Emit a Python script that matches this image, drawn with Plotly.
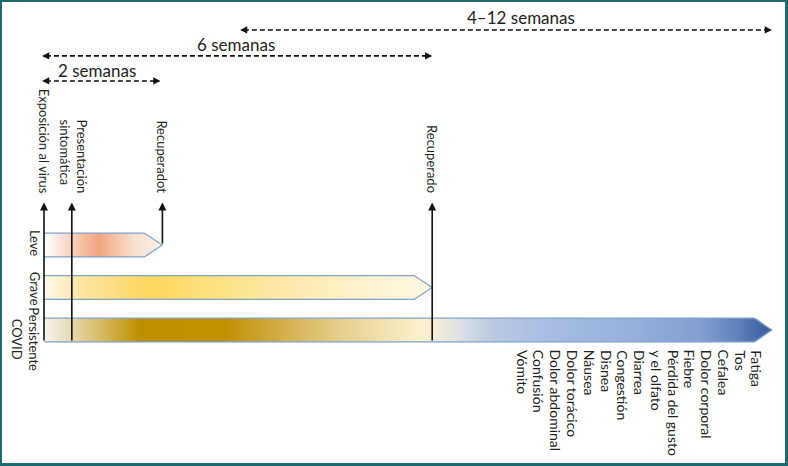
import numpy as np
import plotly.graph_objects as go

# ---------------- data (schematic timeline, in semanas) ----------------
stages = ["Leve", "Grave", "Persistente<br>COVID"]
stage_start = [0.0, 0.0, 0.0]
stage_end = [1.83, 6.0, 11.25]

events = ["Exposición al virus", "Presentación<br>sintomática", "Recuperadot", "Recuperado"]
event_week = [0.0, 0.43, 1.83, 6.0]
event_from_stage = [2, 2, 0, 2]

spans = ["2 semanas", "6 semanas", "4–12 semanas"]
span_start = [-0.03, -0.03, 3.03]
span_end = [1.80, 6.0, 11.25]

symptoms = ["Fatiga", "Tos", "Cefalea", "Dolor corporal", "Fiebre",
            "Pérdida del gusto<br>y el olfato", "Diarrea", "Congestión",
            "Disnea", "Náusea", "Dolor torácico", "Dolor abdominal",
            "Confusión", "Vómito"]

# ---------------- styles ----------------
FONT = "Lato"
TXT = "#231f20"
OUTLINE = "#7ea4c9"
HALF = 0.28        # half bar height (rows)
TIP = 0.28         # arrow tip length (semanas)

scales = [
    [[0, "#ffffff"], [0.13, "#fbe6db"], [0.34, "#f4bea0"], [0.47, "#f0a47e"],
     [0.60, "#f5c2a6"], [0.77, "#f9e0d2"], [1, "#fbefe8"]],
    [[0, "#fdf9ee"], [0.09, "#fde6a6"], [0.27, "#fcd65c"], [0.40, "#fdde78"],
     [0.61, "#fde9a8"], [0.81, "#fef1cc"], [1, "#fef7e4"]],
    [[0, "#f7f4ec"], [0.034, "#e8dcb8"], [0.076, "#d8bc68"], [0.131, "#bf8f00"],
     [0.248, "#c09000"], [0.323, "#d2ac48"], [0.42, "#e8d498"], [0.516, "#fbf0c8"],
     [0.534, "#f6efd8"], [0.572, "#dde0e4"], [0.613, "#bccbe2"], [0.681, "#aabfe4"],
     [0.82, "#93aed8"], [0.902, "#819fd0"], [0.956, "#5d7fb9"], [1, "#38599a"]],
]

# axis geometry (plot area 783 x 461 px, 64.7 px / semana, 42.5 px / fila)
PXW = 64.7
XR = [(2 - 44) / PXW, (785 - 44) / PXW]
YR = [(463 - 245) / 42.5, (2 - 245) / 42.5]

fig = go.Figure()
shapes = []
annotations = []

# bars with gradient
for i, (s, e) in enumerate(zip(stage_start, stage_end)):
    n = 300
    xe = np.linspace(s, e, n + 1)
    z = [list((np.arange(n) + 0.5) / n)]
    fig.add_trace(go.Heatmap(x=xe, y=[i - HALF, i + HALF], z=z, zmin=0, zmax=1,
                             colorscale=scales[i], showscale=False, zsmooth=False,
                             hoverinfo="skip"))
    ts = e - TIP
    eps = 0.03
    shapes.append(dict(type="path", xref="x", yref="y",
                       path=f"M {ts},{i-HALF-eps} L {e+eps},{i-HALF-eps} L {e+eps},{i} L {e},{i} Z",
                       fillcolor="white", line=dict(width=0)))
    shapes.append(dict(type="path", xref="x", yref="y",
                       path=f"M {ts},{i+HALF+eps} L {e+eps},{i+HALF+eps} L {e+eps},{i} L {e},{i} Z",
                       fillcolor="white", line=dict(width=0)))
    shapes.append(dict(type="path", xref="x", yref="y",
                       path=f"M {s},{i-HALF} L {ts},{i-HALF} L {e},{i} L {ts},{i+HALF} L {s},{i+HALF}",
                       line=dict(color=OUTLINE, width=1.2)))

# stage labels
stage_label_x = [(35 - 44) / PXW, (35 - 44) / PXW, (26 - 44) / PXW]
stage_label_y = [-0.05, 1.03, 2.22]
for lab, lx, ly in zip(stages, stage_label_x, stage_label_y):
    annotations.append(dict(x=lx, y=ly, xref="x", yref="y", text=lab, showarrow=False,
                            textangle=90, xanchor="center", yanchor="middle", align="center",
                            font=dict(family=FONT, size=13, color=TXT)))

# vertical event arrows + labels
ARROW_TOP = -1.0
for ev, w, st in zip(events, event_week, event_from_stage):
    base = st + HALF if st == 2 else st
    annotations.append(dict(x=w, y=ARROW_TOP, ax=w, ay=base, xref="x", yref="y",
                            axref="x", ayref="y", text="", showarrow=True,
                            arrowhead=2, arrowsize=1, arrowwidth=1.6, arrowcolor="#111"))
    annotations.append(dict(x=w + (0.03 if "<br>" in ev else 0), y=ARROW_TOP - 0.17,
                            xref="x", yref="y", text=ev, showarrow=False, textangle=90,
                            xanchor="center", yanchor="bottom", align="left",
                            font=dict(family=FONT, size=13, color=TXT)))

# dashed span arrows
span_level = [-3.86, -4.45, -5.06]
span_label_x = [0.82, 2.97, 7.37]
span_label_dy = [-0.25, -0.27, -0.29]
for lab, a, b, lv, lx, dy in zip(spans, span_start, span_end, span_level, span_label_x, span_label_dy):
    shapes.append(dict(type="line", xref="x", yref="y", x0=a + 0.06, x1=b - 0.06, y0=lv, y1=lv,
                       line=dict(color="#111", width=1.6, dash="5px,3px")))
    for head, tail in ((a, a + 0.09), (b, b - 0.09)):
        annotations.append(dict(x=head, y=lv, ax=tail, ay=lv, xref="x", yref="y",
                                axref="x", ayref="y", text="", showarrow=True,
                                arrowhead=2, arrowsize=0.9, arrowwidth=1.6, arrowcolor="#111"))
    annotations.append(dict(x=lx, y=lv + dy, xref="x", yref="y", text=lab, showarrow=False,
                            xanchor="center", yanchor="middle",
                            font=dict(family=FONT, size=17, color=TXT)))

# symptoms: one rotated text column per line, right to left
sym_lines = [ln for item in symptoms for ln in item.split("<br>")]
SYM_RIGHT = (757 - 44) / PXW
SYM_STEP = 16.8 / PXW
for k, ln in enumerate(sym_lines):
    annotations.append(dict(x=SYM_RIGHT - k * SYM_STEP, y=2 + HALF + 0.14, xref="x", yref="y",
                            text=ln, showarrow=False, textangle=90,
                            xanchor="center", yanchor="top", align="left",
                            font=dict(family=FONT, size=14, color=TXT)))

fig.update_layout(
    width=788, height=466,
    margin=dict(l=2, r=3, t=2, b=3),
    paper_bgcolor="#1c6b6e", plot_bgcolor="white",
    xaxis=dict(range=XR, visible=False, fixedrange=True),
    yaxis=dict(range=YR, visible=False, fixedrange=True),
    shapes=shapes, annotations=annotations, showlegend=False,
)

fig.write_html("out.html", config={"displayModeBar": False},
               post_script="document.body.style.margin='0';document.body.style.overflow='hidden';")
